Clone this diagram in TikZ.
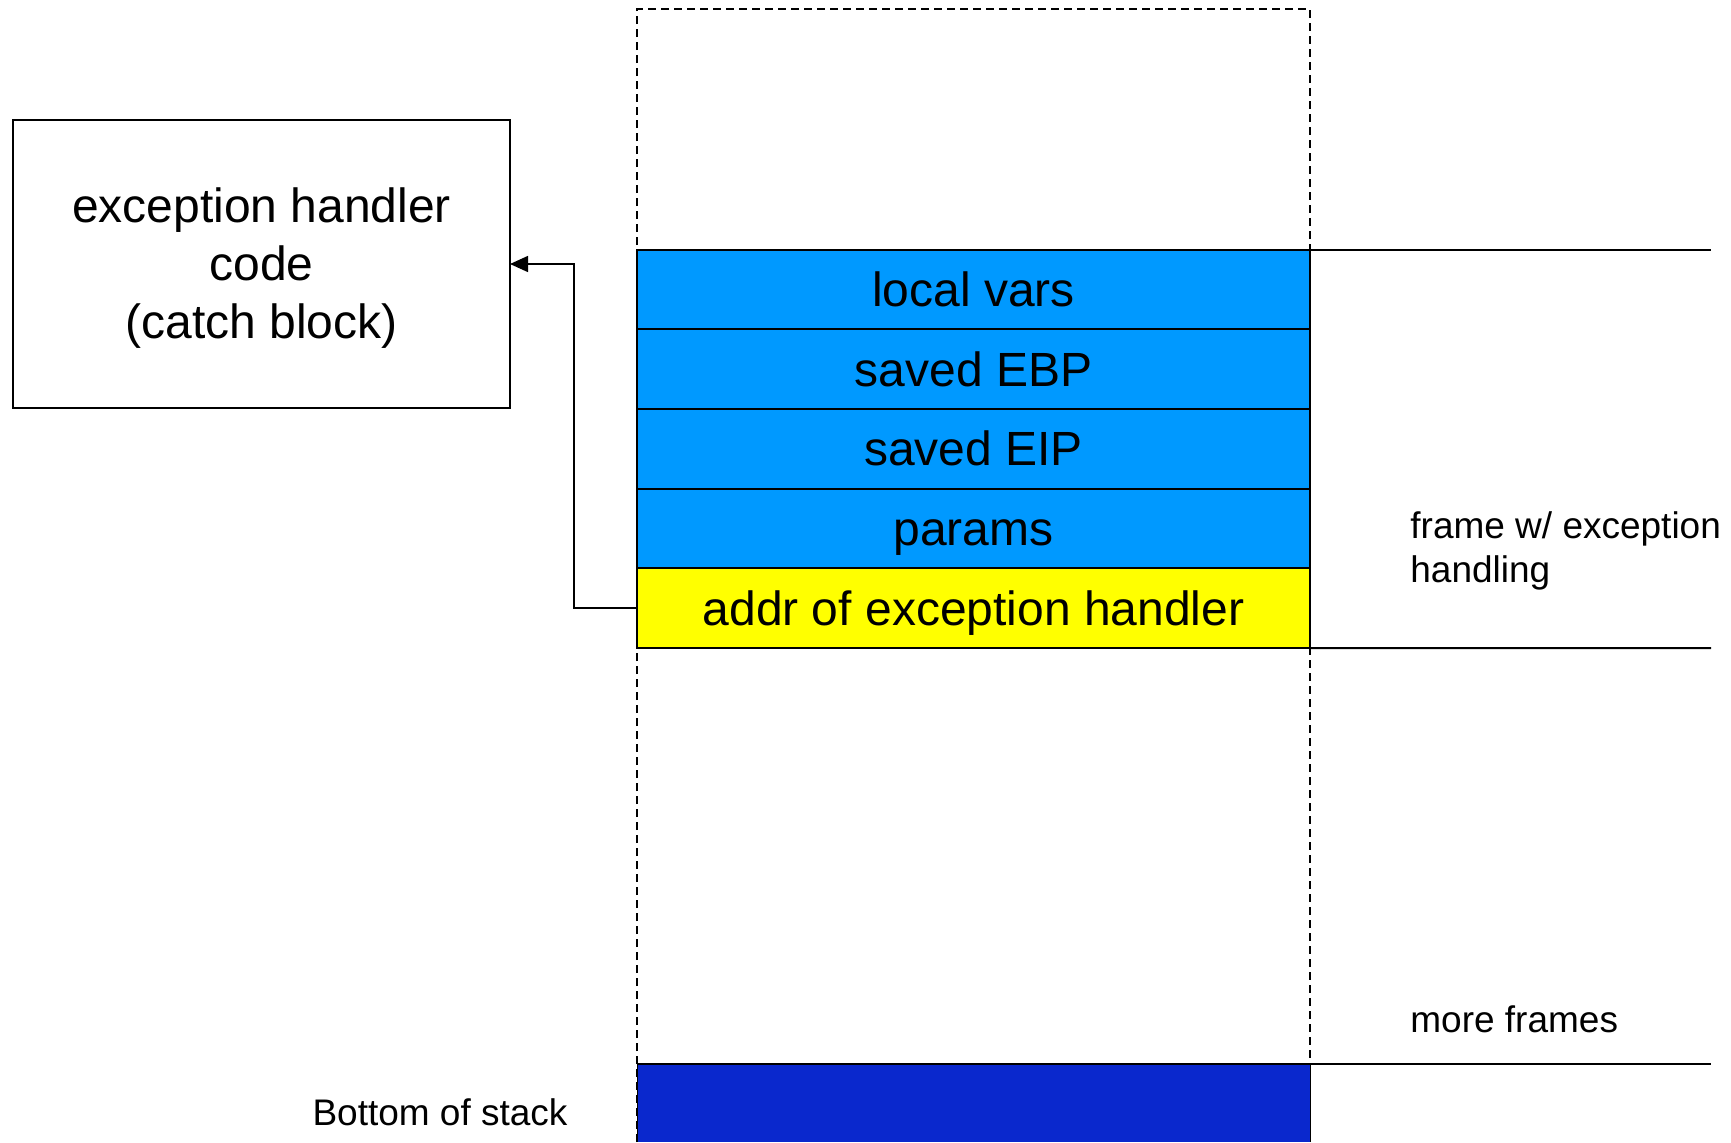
\documentclass[tikz,border=0pt]{standalone}
\usepackage{fontspec}
\setmainfont{Liberation Sans}
\usetikzlibrary{arrows.meta}
\definecolor{rowblue}{RGB}{0,153,255}
\definecolor{rowyellow}{RGB}{255,255,0}
\definecolor{deepblue}{RGB}{10,40,205}
\begin{document}
\begin{tikzpicture}[x=0.5pt,y=-0.5pt,
  stackrow/.style={draw=black, line width=1pt, minimum width=336.5pt, minimum height=39.85pt,
    inner sep=0pt, outer sep=0pt, anchor=north west, text height=17.2pt, text depth=0pt,
    font=\fontsize{24}{29}\selectfont},
  bigtext/.style={font=\fontsize{24}{29}\selectfont},
  smalltext/.style={font=\fontsize{18.5}{22}\selectfont, inner sep=0pt},
  stackedge/.style={dashed, dash pattern=on 4pt off 2.5pt, line width=0.7pt},
  divider/.style={line width=1pt},
  link/.style={line width=0.75pt, -{Triangle[length=9pt,width=8pt]}}]
\useasboundingbox (0,0) rectangle (1731,1142);
% dashed stack outline
\coordinate (sbl) at (637,1142);
\coordinate (stl) at (637,9);
\coordinate (str) at (1310,9);
\coordinate (sbr) at (1310,1142);
\draw[stackedge] (sbl) -- (stl) -- (str) -- (sbr);
% handler box
\node[draw=black, line width=1pt, minimum width=248.5pt, minimum height=144pt, inner sep=0pt,
  outer sep=0pt] (handler) at (261.5,264) {};
\node[align=center, bigtext, inner sep=0pt] (handlertext) at (261.5,268.5) {exception handler\\code\\(catch block)};
% stack rows
\node[stackrow, fill=rowblue] (lv) at (637,249.5) {local vars};
\node[stackrow, fill=rowblue] (ebp) at (lv.south west) {saved EBP};
\node[stackrow, fill=rowblue] (eip) at (ebp.south west) {saved EIP};
\node[stackrow, fill=rowblue] (par) at (eip.south west) {params};
\node[stackrow, fill=rowyellow] (addr) at (par.south west) {addr of exception handler};
\fill[deepblue] (637,1064) rectangle (1310,1142);
\draw[divider] (637,1064) -- (1310,1064);
\draw[line width=0.5pt] (637,1064) -- (637,1142) (1310,1064) -- (1310,1142);
% right dividers
\coordinate (r1) at (1711,249.5);
\coordinate (r2) at (1711,648);
\coordinate (r3) at (1711,1064);
\draw[divider] (lv.north east) -- (r1);
\draw[divider] (addr.south east) -- (r2);
\draw[divider] (1310,1064) -- (r3);
% labels
\node[smalltext, anchor=west, align=left] (framelbl) at (1410,550.5) {frame w/ exception\\handling};
\node[smalltext, anchor=west] (morelbl) at (1410,1019) {more frames};
\node[smalltext] (botlbl) at (440,1112) {Bottom of stack};
% arrow
\draw[link] (addr.west) -- ++(-63,0) |- (handler.east);
\end{tikzpicture}
\end{document}
